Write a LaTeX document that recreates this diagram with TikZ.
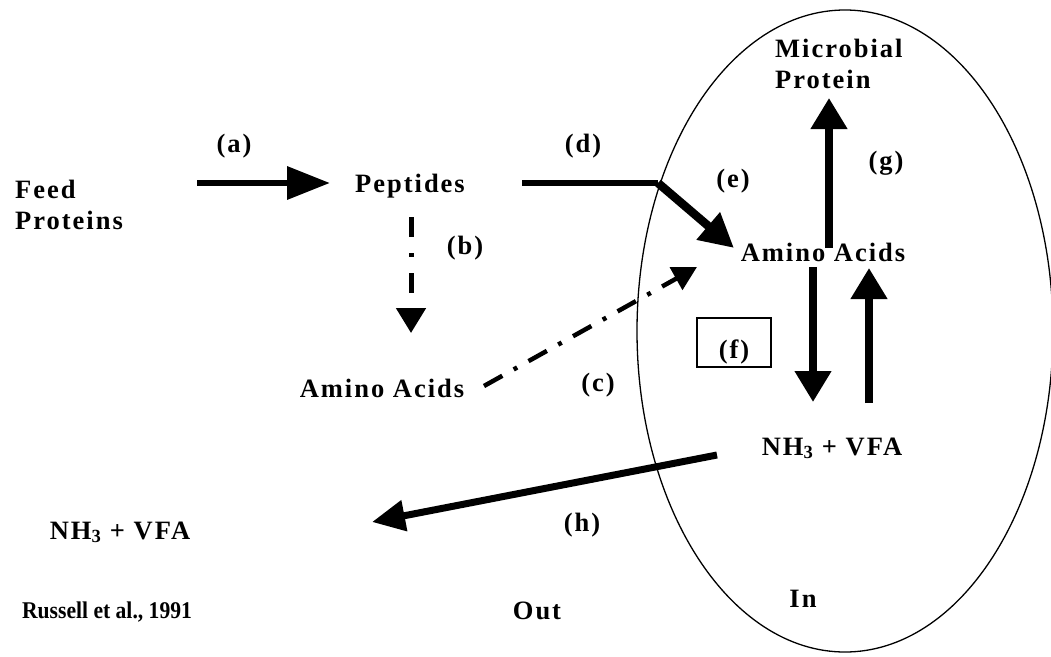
\documentclass[tikz,border=0pt]{standalone}
\usepackage{fontspec}
\setmainfont{Liberation Serif}
\newfontfamily\lblfont[LetterSpace=7.5]{Liberation Serif}
\usetikzlibrary{arrows.meta}
\begin{document}
\begin{tikzpicture}[x=1pt,y=-1pt,
  lab/.style={font=\lblfont\bfseries\fontsize{26.5}{31}\selectfont, inner sep=0pt, anchor=base},
  plain/.style={font=\bfseries\fontsize{24}{28}\selectfont, inner sep=0pt, anchor=base},
  bigarrow/.style={line width=#1, -{Triangle[length=31pt,width=35pt]}},
  thinline/.style={line width=1.3pt}
]
\useasboundingbox (0,0) rectangle (1051,656);
% rumen
\draw[thinline] (845,331) ellipse [x radius=208, y radius=321];
% text nodes
\node[lab, anchor=base west, align=left] (feed) at (15,229) {Feed\\Proteins};
\node[lab] (pep) at (410,192) {Peptides};
\node[lab] (aaout) at (382,397) {Amino Acids};
\node[lab] (aain) at (823,261) {Amino Acids};
\node[lab, anchor=base west, align=left] (micro) at (775,88) {Microbial\\Protein};
\node[lab] (nhin) at (832,455) {NH\textsubscript{3} + VFA};
\node[lab] (nhout) at (120,539) {NH\textsubscript{3} + VFA};
\node[lab] (la) at (234,152) {(a)};
\node[lab] (lb) at (465,254) {(b)};
\node[lab] (lc) at (598,391) {(c)};
\node[lab] (ld) at (583,152) {(d)};
\node[lab] (le) at (733,187) {(e)};
\node[lab] (lg) at (886,169) {(g)};
\node[lab] (lh) at (582,531) {(h)};
\node[lab, draw, line width=1.3pt, anchor=center, minimum width=74pt, minimum height=49pt, text height=32pt, text depth=0pt] (lf) at (734,342.5) {(f)};
\node[lab] (out) at (537,619) {Out};
\node[lab] (in) at (803,607) {In};
\node[plain] (cite) at (107,618) {\scalebox{0.9}[1]{Russell et al., 1991}};
% connector end points
\coordinate (a0) at (197,183);  \coordinate (a1) at (330,183);
\coordinate (d0) at (522,183);  \coordinate (d1) at (658,183);  \coordinate (e1) at (734,248);
\coordinate (g0) at (829,248);  \coordinate (g1) at (829,98);
\coordinate (f0) at (813,267);  \coordinate (f1) at (813,402);
\coordinate (u0) at (869,403);  \coordinate (u1) at (869,268);
\coordinate (b0) at (411,217);  \coordinate (b1) at (411,333);
\coordinate (c0) at (484,386);  \coordinate (c1) at (697,267);
\coordinate (h0) at (717,455);  \coordinate (h1) at (372,522);
% connectors
\draw[line width=6.5pt, -{Triangle[length=43pt,width=32pt]}] (a0) -- (a1);
\draw[line width=6pt] (d0) -- (d1);
\draw[line width=8.5pt, -{Triangle[length=34pt,width=34pt]}] (d1) -- (e1);
\draw[bigarrow=7.5pt] (g0) -- (g1);
\draw[bigarrow=7.5pt] (f0) -- (f1);
\draw[bigarrow=7.5pt] (u0) -- (u1);
\draw[line width=5pt, dash pattern=on 20pt off 16pt on 4pt off 16pt, -{Triangle[length=25pt,width=29pt]}] (b0) -- (b1);
\draw[line width=4.5pt, dash pattern=on 21pt off 13pt on 4pt off 13pt, -{Triangle[length=24pt,width=25pt]}] (c0) -- (c1);
\draw[line width=7pt, -{Triangle[length=33pt,width=30pt]}] (h0) -- (h1);
\end{tikzpicture}
\end{document}
